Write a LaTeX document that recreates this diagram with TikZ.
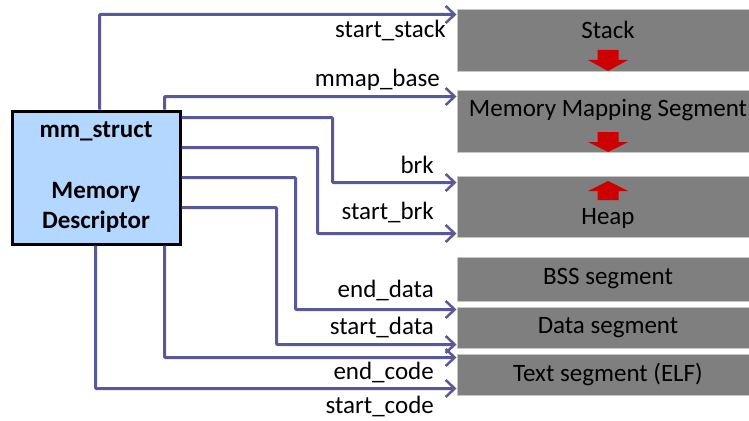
\documentclass[tikz,border=0pt]{standalone}
\usepackage{fontspec}
\setmainfont{Carlito}
\usetikzlibrary{arrows.meta,positioning}
\definecolor{ptrcol}{HTML}{58589A}
\definecolor{descfill}{HTML}{B3D7FF}
\definecolor{segfill}{HTML}{7F7F7F}
\definecolor{growcol}{HTML}{CC0000}
\tikzstyle{descbox} = [draw,line width=3pt,fill=descfill,minimum width=168pt,minimum height=133pt,inner sep=0]
\tikzstyle{segbox} = [draw=gray!45,line width=1pt,fill=segfill,minimum width=302pt,inner sep=0]
\tikzstyle{segtext} = [inner sep=0,font=\fontsize{25}{30}\selectfont]
\tikzstyle{ptr} = [-{Straight Barb[length=9pt,width=17pt,line width=2.5pt]},line width=3pt,draw=ptrcol,rounded corners=1pt]
\tikzstyle{ptrlabel} = [inner sep=0,anchor=east,font=\fontsize{25}{30}\selectfont]
\tikzstyle{growarrow} = [fill=growcol]
\def \segx {608}

\begin{document}
\begin{tikzpicture}[x=1pt,y=-1pt]
      \useasboundingbox[fill=white] (0,0) rectangle (749,420);
      % segments
      \node[segbox,minimum height=61pt] (stack) at (\segx,40.5) {};
      \node[segbox,minimum height=62pt] (mmap) at (\segx,121) {};
      \node[segbox,minimum height=61pt] (heap) at (\segx,206.5) {};
      \node[segbox,minimum height=44pt] (bss) at (\segx,279) {};
      \node[segbox,minimum height=41pt] (data) at (\segx,327.5) {};
      \node[segbox,minimum height=41pt] (textseg) at (\segx,374.5) {};
      \node[segtext] (stacktxt) at (\segx,30) {Stack};
      \node[segtext] (mmaptxt) at (\segx,110) {Memory Mapping Segment};
      \node[segtext] (heaptxt) at (\segx,218) {Heap};
      \node[segtext] (bsstxt) at (bss) {BSS segment};
      \node[segtext] (datatxt) at (data) {Data segment};
      \node[segtext] (texttxt) at (textseg) {Text segment (ELF)};
      % growth arrows
      \fill[growarrow] (597.5,50) -- (618.5,50) -- (618.5,60) -- (628,60) -- (608,71) -- (588,60) -- (597.5,60) -- cycle;
      \fill[growarrow] (597.5,132) -- (618.5,132) -- (618.5,142) -- (628,142) -- (608,152) -- (588,142) -- (597.5,142) -- cycle;
      \fill[growarrow] (597.5,200) -- (618.5,200) -- (618.5,191) -- (628,191) -- (608,181) -- (588,191) -- (597.5,191) -- cycle;
      % descriptor
      \node[descbox] (md) at (96,177.5) {};
      \node[segtext,font=\fontsize{25}{30}\selectfont\bfseries] (mmtxt) at (96,131) {mm\_struct};
      \node[segtext,font=\fontsize{25}{30}\selectfont\bfseries,align=center] (mdtxt) at (96,207) {Memory\\Descriptor};
      % pointers
      \draw[ptr] ([xshift=89pt]md.north west) |- ([yshift=-5pt]stack.north west);
      \draw[ptr] ([xshift=154pt]md.north west) |- ([yshift=-7pt]mmap.north west);
      \draw[ptr] ([yshift=-8pt]md.north east) -- ++(151,0) |- ([yshift=-7pt]heap.north west);
      \draw[ptr] ([yshift=-38pt]md.north east) -- ++(136,0) |- ([yshift=4pt]heap.south west);
      \draw[ptr] ([yshift=-68pt]md.north east) -- ++(114,0) |- ([yshift=-3pt]data.north west);
      \draw[ptr] ([yshift=-98pt]md.north east) -- ++(95,0) |- ([yshift=4pt]data.south west);
      \draw[ptr] ([xshift=154pt]md.south west) |- ([yshift=-4pt]textseg.north west);
      \draw[ptr] ([xshift=85pt]md.south west) |- ([yshift=7pt]textseg.south west);
      % labels
      \node[ptrlabel] (lss) at (446,30) {start\_stack};
      \node[ptrlabel] (lmb) at (440,80) {mmap\_base};
      \node[ptrlabel] (lbrk) at (434,165) {brk};
      \node[ptrlabel] (lsb) at (434,212) {start\_brk};
      \node[ptrlabel] (led) at (434,290) {end\_data};
      \node[ptrlabel] (lsd) at (434,327) {start\_data};
      \node[ptrlabel] (lec) at (434,372) {end\_code};
      \node[ptrlabel] (lsc) at (434,406) {start\_code};
    \end{tikzpicture}
\end{document}
